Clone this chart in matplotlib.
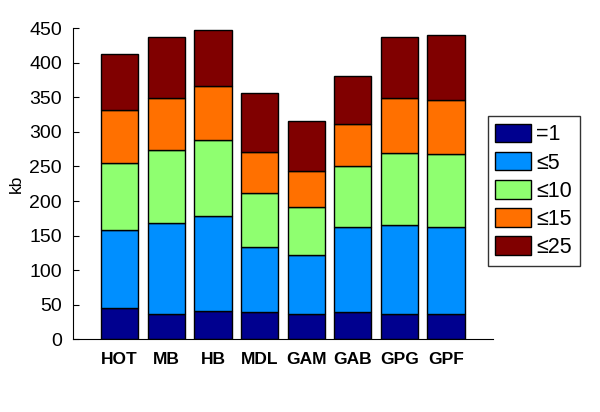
import numpy as np
import matplotlib
matplotlib.use("Agg")
import matplotlib.pyplot as plt

plt.rcParams['font.family'] = ['Liberation Sans', 'DejaVu Sans']

# data (kb per band, stacked)
categories = ["HOT", "MB", "HB", "MDL", "GAM", "GAB", "GPG", "GPF"]
series_labels = ["=1", "≤5", "≤10", "≤15", "≤25"]
eq1 = [45, 37, 41, 40, 37, 39, 37, 37]
le5 = [113, 131, 137, 94, 85, 123, 128, 125]
le10 = [97, 106, 110, 77, 70, 88, 104, 106]
le15 = [77, 75, 78, 60, 51, 61, 80, 78]
le25 = [81, 89, 81, 86, 73, 70, 88, 94]
colors = ["#00008F", "#008FFF", "#8FFF70", "#FF7000", "#800000"]

fig = plt.figure(figsize=(6, 4.12), dpi=100)
ax = fig.add_axes([0.1217, 0.1765, 0.6995, 0.755])

x = np.arange(1, len(categories) + 1)
bottom = np.zeros(len(categories))
for vals, lab, col in zip([eq1, le5, le10, le15, le25], series_labels, colors):
    ax.bar(x, vals, width=0.8, bottom=bottom, color=col, edgecolor="black",
           linewidth=1.0, label=lab)
    bottom += np.array(vals)

ax.set_xlim(0, 9)
ax.set_ylim(0, 450)
ax.set_yticks(np.arange(0, 451, 50))
ax.set_xticks(x)
ax.set_xticklabels(categories, fontweight="bold", fontsize=12.5)
ax.tick_params(axis="x", length=0, pad=9)
ax.tick_params(axis="y", direction="in", length=4, labelsize=14, pad=8)
ax.spines["top"].set_visible(False)
ax.spines["right"].set_visible(False)
ax.set_ylabel("kb", fontsize=12.5, labelpad=4)

leg = ax.legend(loc="upper left", bbox_to_anchor=(0.813, 0.718),
                bbox_transform=fig.transFigure, fontsize=15.5,
                frameon=True, fancybox=False, edgecolor="black",
                handlelength=1.65, handleheight=0.95, handletextpad=0.25,
                labelspacing=0.3, borderpad=0.35, borderaxespad=0)
leg.get_frame().set_linewidth(1.0)

fig.savefig("out.png", dpi=100)
